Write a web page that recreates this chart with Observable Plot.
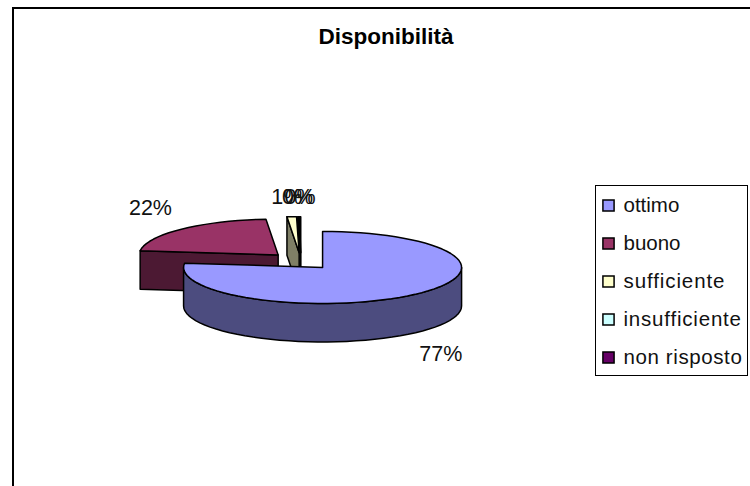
<!DOCTYPE html>
<html><head><meta charset="utf-8">
<script src="https://cdn.jsdelivr.net/npm/d3@7"></script>
<script src="https://cdn.jsdelivr.net/npm/@observablehq/plot@0.6"></script>
<style>
html,body{margin:0;padding:0;background:#fff;overflow:hidden}
#page{position:relative;width:750px;height:486px;font-family:"Liberation Sans",Arial,sans-serif}
#frame{position:absolute;left:12px;top:7px;width:738px;height:479px;border-left:2px solid #000;border-top:2px solid #000;box-sizing:border-box}
#title{position:absolute;left:12px;width:748px;top:25px;text-align:center;font-weight:bold;font-size:22.5px;line-height:24px;color:#000}
#pie,#legend{position:absolute}
#pie{left:0;top:0}
#legend{left:595px;top:185px;width:153px;height:191px;border:1px solid #000;box-sizing:border-box;background:#fff}
svg{display:block;overflow:visible}
</style></head>
<body><div id="page"><div id="frame"></div><div id="title">Disponibilità</div><div id="pie"></div><div id="legend"></div></div>
<script>
const categories = ["ottimo","buono","sufficiente","insufficiente","non risposto"];
const shares = [76.9,21.7,1.1,0.15,0.15];
const labels = ["77%","22%","1%","0%","0%"];
const topColors = ["#9999ff","#993366","#ffffcc","#ccffff","#660066"];
const sideColors = ["#4c4c7f","#4c1933","#7f7f66","#667f7f","#330033"];

// layout of the 3D pie
const cx=300.4, cy=260.6, rx=139, ry=36, depth=38.5, explode=0.235;
const labelShift=[[26,60],[-31,-21],[-5,-20],[-1,-20],[0,-20]];

const total=d3.sum(shares), TAU=2*Math.PI;
let acc=0;
const slices=categories.map((name,i)=>{
  const a0=acc/total*TAU; acc+=shares[i]; const a1=acc/total*TAU; const m=(a0+a1)/2;
  return {i,name,a0,a1,m,ax:cx+explode*rx*Math.sin(m),ay:cy-explode*ry*Math.cos(m)};
});
const rim=(s,a)=>[s.ax+rx*Math.sin(a),s.ay-ry*Math.cos(a)];
const arc=(s,a0,a1)=>{const n=Math.max(1,Math.ceil(Math.abs(a1-a0)/(4*Math.PI/180)));return d3.range(n+1).map(k=>rim(s,a0+(a1-a0)*k/n));};
const polys=[];
const add=(pts,fill)=>{const id=polys.length?polys[polys.length-1].id+1:0;[...pts,pts[0]].forEach(p=>polys.push({id,x:p[0],y:p[1],fill}));};
const down=(p)=>[p[0],p[1]+depth];
[...slices].sort((a,b)=>Math.cos(b.m)-Math.cos(a.m)).forEach(s=>{
  const side=sideColors[s.i], top=topColors[s.i], apex=[s.ax,s.ay];
  if(Math.sin(s.a0)<0){const r=rim(s,s.a0);add([apex,r,down(r),down(apex)],side);}
  if(Math.sin(s.a1)>0){const r=rim(s,s.a1);add([apex,r,down(r),down(apex)],side);}
  const lo=Math.max(s.a0,Math.PI/2), hi=Math.min(s.a1,3*Math.PI/2);
  if(hi>lo){const a=arc(s,lo,hi);add([...a,...[...a].reverse().map(down)],side);}
  add([apex,...arc(s,s.a0,s.a1)],top);
});
const labelData=slices.map(s=>{
  const r=rim(s,s.m);
  return {text:labels[s.i],x:r[0]+labelShift[s.i][0],y:r[1]+labelShift[s.i][1]};
});

document.getElementById("pie").append(Plot.plot({
  width:750,height:486,margin:0,
  x:{domain:[0,750],range:[0,750],axis:null},
  y:{domain:[0,486],range:[0,486],axis:null},
  color:{type:"identity"},
  marks:[
    Plot.line(polys,{x:"x",y:"y",z:"id",fill:"fill",stroke:"#000",strokeWidth:1.5,strokeLinejoin:"round",curve:"linear"}),
    Plot.text(labelData,{x:"x",y:"y",text:"text",fontSize:21.5,fill:"#111",fontFamily:"Liberation Sans"})
  ],
  style:{background:"transparent",fontFamily:"Liberation Sans"}
}));

const legendSpacing=[0,0,0.9,0.8,0.6];
const legendPlot=Plot.plot({
  width:151,height:189,marginLeft:0,marginRight:0,marginTop:0,marginBottom:0,
  x:{domain:[0,151],range:[0,151],axis:null},
  y:{domain:categories,range:[18,171],axis:null,type:"point",padding:0},
  color:{type:"identity"},
  marks:[
    Plot.dot(categories,{x:()=>12,y:d=>d,symbol:"square",r:6.3,fill:(d,i)=>topColors[i],stroke:"#000",strokeWidth:1.5}),
    Plot.text(categories,{x:()=>27,y:d=>d,text:d=>d,textAnchor:"start",fontSize:20.5,fill:"#111",fontFamily:"Liberation Sans"})
  ],
  style:{background:"transparent",fontFamily:"Liberation Sans"}
});
d3.select(legendPlot).selectAll("text").attr("letter-spacing",(d,i)=>legendSpacing[i]);
document.getElementById("legend").append(legendPlot);
</script></body></html>
